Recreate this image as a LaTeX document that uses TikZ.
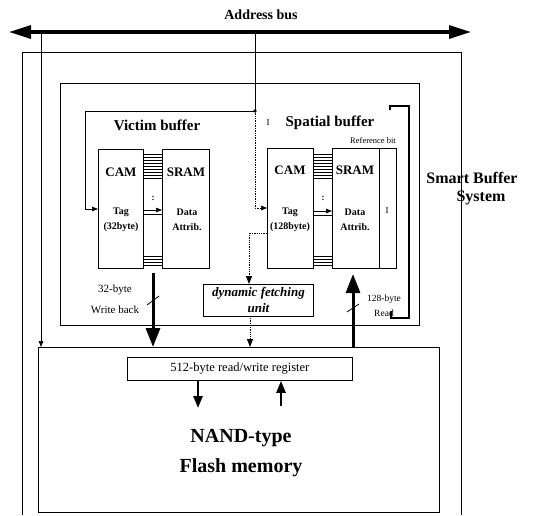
\documentclass[tikz,border=0pt]{standalone}
\usepackage{fontspec}
\setmainfont{Liberation Serif}
\usetikzlibrary{arrows.meta}
\begin{document}
\begin{tikzpicture}[x=1pt,y=-1pt,
  box/.style={draw, line width=0.8pt, inner sep=0pt, anchor=north west},
  lbl/.style={inner sep=0pt, align=center},
  conn/.style={line width=0.7pt, -{Triangle[length=6pt,width=4.5pt]}},
  dotconn/.style={line width=0.8pt, densely dotted, -{Triangle[length=8pt,width=6pt]}},
  fat/.style={line width=3pt, -{Triangle[length=19pt,width=14pt]}},
  regarrow/.style={line width=2.4pt, -{Triangle[length=12pt,width=9pt]}},
  comb/.style={line width=0.6pt},
  bigbold/.style={font=\bfseries\fontsize{20}{24}\selectfont},
]
\useasboundingbox (0,0) rectangle (536,515);

% outer system box (open at the bottom)
\coordinate (oA) at (22,515); \coordinate (oB) at (22,52);
\coordinate (oC) at (461,52); \coordinate (oD) at (461,515);
\draw[line width=0.8pt] (oA) -- (oB) -- (oC) -- (oD);

% boxes
\node[box, minimum width=359pt, minimum height=242pt] (mid) at (60,83) {};
\node[box, minimum width=45pt, minimum height=119pt] (vcam) at (98,149) {};
\node[box, minimum width=47pt, minimum height=119pt] (vsram) at (162,149) {};
\node[box, minimum width=46pt, minimum height=120pt] (scam) at (267,148) {};
\node[box, minimum width=47pt, minimum height=120pt] (ssram) at (332,148) {};
\node[box, minimum width=17pt, minimum height=120pt] (refbit) at (379,148) {};
\node[box, minimum width=401pt, minimum height=165pt] (nand) at (38,347) {};
\node[box, minimum width=225pt, minimum height=23pt, font=\fontsize{12.5}{14}\selectfont] (reg) at (127,357) {512-byte read/write register};
\node[box, minimum width=110pt, minimum height=32pt, align=center, font=\bfseries\itshape\fontsize{13}{16}\selectfont] (dfu) at (203,284) {dynamic fetching\\unit};

% texts
\node[lbl, font=\bfseries\fontsize{14}{16}\selectfont] (addr) at (261,15) {Address bus};
\node[lbl, font=\bfseries\fontsize{15}{17}\selectfont] (vbuf) at (157,125) {Victim buffer};
\node[lbl, font=\bfseries\fontsize{15}{17}\selectfont] (sbuf) at (330,123) {Spatial buffer};
\node[lbl, font=\fontsize{9}{10}\selectfont] (tick1) at (268,123) {I};
\node[lbl, font=\fontsize{8.5}{10}\selectfont] (refb) at (373,141) {Reference bit};
\node[lbl, font=\bfseries\fontsize{16}{18}\selectfont] (smart) at (472,178) {Smart Buffer};
\node[lbl, font=\bfseries\fontsize{16}{18}\selectfont] (system) at (481,198) {System};

\node[lbl, font=\bfseries\fontsize{13}{15}\selectfont] (vcamt) at (121,172) {CAM};
\node[lbl, font=\bfseries\fontsize{13}{15}\selectfont] (vsramt) at (186,172) {SRAM};
\node[lbl, font=\bfseries\fontsize{10}{15}\selectfont] (vtag) at (121,220) {Tag\\(32byte)};
\node[lbl, font=\bfseries\fontsize{10}{15}\selectfont] (vdata) at (187,220) {Data\\Attrib.};
\node[lbl, font=\bfseries\fontsize{13}{15}\selectfont] (scamt) at (290,170) {CAM};
\node[lbl, font=\bfseries\fontsize{13}{15}\selectfont] (ssramt) at (355,170) {SRAM};
\node[lbl, font=\bfseries\fontsize{10}{15}\selectfont] (stag) at (290,220) {Tag\\(128byte)};
\node[lbl, font=\bfseries\fontsize{10}{15}\selectfont] (sdata) at (355,220) {Data\\Attrib.};
\node[lbl, font=\fontsize{9}{10}\selectfont] (rbI) at (387,211) {I};
\node[lbl, font=\bfseries\fontsize{9}{10}\selectfont] (vdots) at (153,198) {:};
\node[lbl, font=\bfseries\fontsize{9}{10}\selectfont] (sdots) at (323,198) {:};

\node[lbl, font=\fontsize{11}{21}\selectfont] (wbl) at (115,299) {32-byte\\Write back};
\node[lbl, font=\fontsize{9.5}{15}\selectfont] (rdl) at (384,306) {128-byte\\Read};

\node[lbl, bigbold] (nand1) at (241,438) {NAND-type};
\node[lbl, bigbold] (nand2) at (241,468) {Flash memory};

% address bus
\coordinate (busL) at (9,32); \coordinate (busR) at (471,32);
\draw[line width=3.2pt, {Triangle[length=22pt,width=13pt]}-{Triangle[length=22pt,width=13pt]}] (busL) -- (busR);
\coordinate (tapL) at (41,32);
\draw[conn] (tapL) -- (tapL |- nand.north);
\coordinate (tapM) at (255,32);
\coordinate (dot) at (255,111);
\draw[line width=0.7pt] (tapM) -- (dot);
\fill (dot) circle (1.9);
\coordinate (vin) at (85,209);
\draw[conn] (dot) -| (vin) -- (vcam.west |- vin);
\coordinate (sin) at (255,208);
\draw[conn, densely dotted] (dot) -- (sin) -- (scam.west |- sin);

% combs between CAM and SRAM
\foreach \yy in {154,157,...,178} {
  \draw[comb] (vcam.east |- 0,\yy) -- (vsram.west |- 0,\yy);
  \draw[comb] (scam.east |- 0,\yy) -- (ssram.west |- 0,\yy);
}
\foreach \yy in {256,259,262,265} {
  \draw[comb] (vcam.east |- 0,\yy) -- (vsram.west |- 0,\yy);
  \draw[comb] (scam.east |- 0,\yy) -- (ssram.west |- 0,\yy);
}
\coordinate (va) at (143,210); \coordinate (vb) at (143,214);
\draw[conn] (va) -- (vsram.west |- va);
\draw[comb] (vb) -- (vsram.west |- vb);
\coordinate (sa) at (313,211); \coordinate (sb) at (313,215);
\draw[conn] (sa) -- (ssram.west |- sa);
\draw[comb] (sb) -- (ssram.west |- sb);

% dynamic fetching
\coordinate (dyo) at (249,233);
\draw[dotconn] (scam.west |- dyo) -- (dyo) -- (dyo |- dfu.north);
\coordinate (dyb) at (250,316);
\draw[dotconn] (dyb) -- (dyb |- nand.north);

% write back / read
\coordinate (wbtop) at (153,273);
\draw[fat] (wbtop) -- (wbtop |- nand.north);
\coordinate (wbt1) at (147,305); \coordinate (wbt2) at (159,296);
\draw[line width=0.8pt] (wbt1) -- (wbt2);
\coordinate (rdtop) at (353,274);
\draw[fat] (rdtop |- nand.north) -- (rdtop);
\coordinate (rdt1) at (347,312); \coordinate (rdt2) at (359,304);
\draw[line width=0.8pt] (rdt1) -- (rdt2);

% bracket (reference bit)
\coordinate (brA) at (390,110); \coordinate (brB) at (390,106);
\coordinate (brC) at (409,106); \coordinate (brD) at (409,318);
\coordinate (brE) at (391,318); \coordinate (brF) at (391,311);
\draw[line width=1.8pt] (brA) -- (brB) -- (brC) -- (brD) -- (brE) -- (brF);

% register arrows
\coordinate (ra) at (198,408);
\draw[regarrow] (ra |- reg.south) -- (ra);
\coordinate (rb) at (281,406);
\draw[regarrow] (rb) -- (rb |- reg.south);
\end{tikzpicture}
\end{document}
